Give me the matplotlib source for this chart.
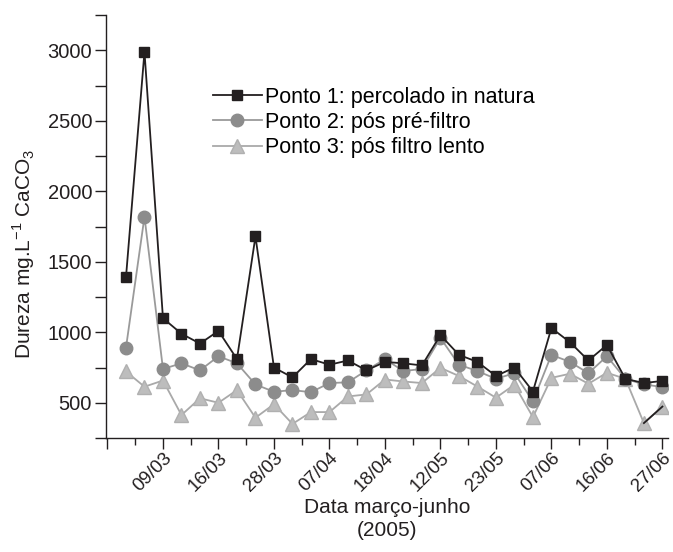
#!/usr/bin/env python3

import matplotlib
matplotlib.use("Agg")
import matplotlib.pyplot as plt
from matplotlib.ticker import MultipleLocator

# sampling index (1..30) and date labels placed every third sample
x = list(range(1, 31))
tick_pos = [3, 6, 9, 12, 15, 18, 21, 24, 27, 30]
tick_labels = ["09/03", "16/03", "28/03", "07/04", "18/04",
               "12/05", "23/05", "07/06", "16/06", "27/06"]

# Dureza (mg/L CaCO3)
ponto1 = [1390, 2990, 1100, 990, 920, 1010, 810, 1680, 750, 680,
          810, 770, 800, 730, 790, 780, 765, 980, 840, 790,
          690, 750, 580, 1030, 930, 800, 910, 670, 640, 655]
ponto2 = [890, 1820, 740, 780, 730, 830, 780, 630, 578, 590,
          575, 640, 645, 730, 810, 725, 740, 960, 770, 725,
          670, 710, 510, 840, 790, 710, 830, 670, 630, 612]
ponto3 = [722, 614, 658, 413, 532, 500, 590, 394, 490, 350,
          434, 434, 545, 559, 665, 651, 640, 748, 690, 615,
          536, 628, 398, 677, 706, 635, 713, 670, 356, 473]

labels = ["Ponto 1: percolado in natura",
          "Ponto 2: pós pré-filtro",
          "Ponto 3: pós filtro lento"]

plt.rcParams['font.family'] = ['Liberation Sans', 'DejaVu Sans']
plt.rcParams['mathtext.fontset'] = 'custom'
plt.rcParams['mathtext.rm'] = 'Liberation Sans'

ink = '#231f20'

fig = plt.figure(figsize=(6.73, 5.52), dpi=100)
ax = fig.add_axes([0.1575, 0.2065, 0.835, 0.766])

ax.plot(x, ponto3, color='#a9a9a9', lw=1.3, marker='^', ms=10,
        mfc='#bdbdbd', mec='#b0b0b0', label=labels[2], zorder=2)
# the last segment of series 3 is drawn dark in the original
ax.plot(x[-2:], ponto3[-2:], color=ink, lw=1.3, zorder=2.5)
ax.plot(x, ponto2, color='#9a9a9a', lw=1.3, marker='o', ms=9,
        mfc='#8c8c8c', mec='#8c8c8c', label=labels[1], zorder=3)
ax.plot(x, ponto1, color=ink, lw=1.3, marker='s', ms=7.5,
        mfc=ink, mec=ink, label=labels[0], zorder=4)

ax.set_xlim(-0.08, 30.3)
ax.set_ylim(250, 3250)

ax.set_xticks([0] + tick_pos)
ax.set_xticklabels([""] + tick_labels, rotation=45, ha='right',
                   rotation_mode='anchor')
ax.xaxis.set_minor_locator(MultipleLocator(1.5))
ax.set_yticks([500, 1000, 1500, 2000, 2500, 3000])
ax.yaxis.set_minor_locator(MultipleLocator(250))

for side in ('top', 'right'):
    ax.spines[side].set_visible(False)
for side in ('left', 'bottom'):
    ax.spines[side].set_linewidth(1.0)
    ax.spines[side].set_color(ink)

ax.tick_params(which='major', length=8, width=1, color=ink,
               labelsize=14.5, labelcolor=ink, direction='out')
ax.tick_params(which='minor', length=5, width=1, color=ink,
               direction='out')
ax.tick_params(axis='y', which='minor', length=8)
ax.tick_params(axis='x', pad=0, labelsize=13.5)
ax.tick_params(axis='y', pad=2)

ax.set_ylabel(r"Dureza mg.L$^{-1}$ CaCO$_3$", fontsize=15, color=ink)
ax.yaxis.set_label_coords(-0.123, 0.435)
ax.set_xlabel("Data março-junho\n(2005)", fontsize=15,
              color=ink, linespacing=1.25)
ax.xaxis.set_label_coords(0.5, -0.143)

h, l = ax.get_legend_handles_labels()
order = [2, 1, 0]
ax.legend([h[i] for i in order], [l[i] for i in order],
          loc='upper left', bbox_to_anchor=(0.316, 0.843),
          bbox_transform=fig.transFigure,
          frameon=False, fontsize=15.5, handlelength=2.3,
          handletextpad=0.15, labelspacing=0.2, borderaxespad=0,
          borderpad=0)

fig.savefig("out.png", dpi=100)
